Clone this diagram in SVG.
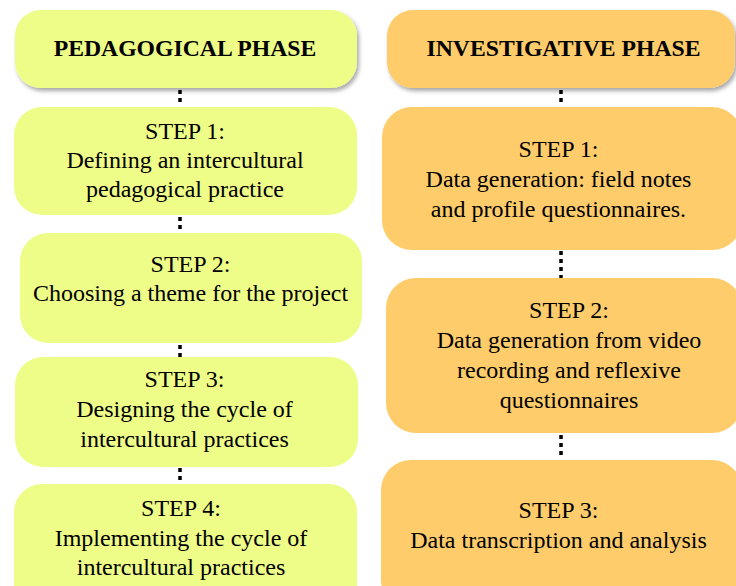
<svg xmlns="http://www.w3.org/2000/svg" width="736" height="586" viewBox="0 0 736 586">
  <defs>
    <filter id="shadow" x="-10%" y="-20%" width="125%" height="150%">
      <feDropShadow dx="2" dy="3" stdDeviation="2" flood-color="#000" flood-opacity="0.35"/>
    </filter>
  </defs>
  <style>
    .ped { fill: #EEFC88; }
    .inv { fill: #FECC6A; }
    .hdr { font-family: "Liberation Serif", "Times New Roman", serif; font-size: 23.7px; font-weight: bold; fill: #000; text-anchor: middle; }
    .txt { font-family: "Liberation Serif", "Times New Roman", serif; font-size: 24px; fill: #000; text-anchor: middle; }
    .link { stroke: #000; stroke-width: 3.5; stroke-dasharray: 4 4; fill: none; }
  </style>
  <rect width="736" height="586" fill="#fff"/>

  <!-- dotted links between stages -->
  <g id="connectors">
    <line class="link" x1="180" y1="90" x2="180" y2="106"/>
    <line class="link" x1="180" y1="217" x2="180" y2="233"/>
    <line class="link" x1="180" y1="345" x2="180" y2="357"/>
    <line class="link" x1="180" y1="468" x2="180" y2="484"/>
    <line class="link" x1="561" y1="90" x2="561" y2="106"/>
    <line class="link" x1="561" y1="251" x2="561" y2="278"/>
    <line class="link" x1="561" y1="435" x2="561" y2="459"/>
  </g>

  <!-- pedagogical column -->
  <g id="ped-header">
    <rect class="ped" x="15" y="10" width="342" height="78" rx="26" filter="url(#shadow)"/>
    <text class="hdr" x="185" y="56">PEDAGOGICAL PHASE</text>
  </g>
  <g id="ped-step1">
    <rect class="ped" x="14" y="107" width="343" height="108" rx="28"/>
    <text class="txt" x="185" y="139">STEP 1:</text>
    <text class="txt" x="185" y="168">Defining an intercultural</text>
    <text class="txt" x="185" y="197">pedagogical practice</text>
  </g>
  <g id="ped-step2">
    <rect class="ped" x="20" y="233" width="342" height="110" rx="28"/>
    <text class="txt" x="190.5" y="271.5">STEP 2:</text>
    <text class="txt" x="190.5" y="300.5">Choosing a theme for the project</text>
  </g>
  <g id="ped-step3">
    <rect class="ped" x="15" y="357" width="343" height="110" rx="28"/>
    <text class="txt" x="184.5" y="387.3">STEP 3:</text>
    <text class="txt" x="184.5" y="417.3">Designing the cycle of</text>
    <text class="txt" x="184.5" y="447.3">intercultural practices</text>
  </g>
  <g id="ped-step4">
    <rect class="ped" x="14" y="484" width="343" height="130" rx="28"/>
    <text class="txt" x="181" y="516">STEP 4:</text>
    <text class="txt" x="181" y="546">Implementing the cycle of</text>
    <text class="txt" x="181" y="575">intercultural practices</text>
  </g>

  <!-- investigative column -->
  <g id="inv-header">
    <rect class="inv" x="387" y="10" width="348" height="78" rx="26" filter="url(#shadow)"/>
    <text class="hdr" x="563.5" y="56">INVESTIGATIVE PHASE</text>
  </g>
  <g id="inv-step1">
    <rect class="inv" x="382" y="107" width="360" height="143" rx="30"/>
    <text class="txt" x="558.5" y="156.7">STEP 1:</text>
    <text class="txt" x="558.5" y="186.7">Data generation: field notes</text>
    <text class="txt" x="558.5" y="216.7">and profile questionnaires.</text>
  </g>
  <g id="inv-step2">
    <rect class="inv" x="386" y="278" width="356" height="155" rx="30"/>
    <text class="txt" x="569" y="318.3">STEP 2:</text>
    <text class="txt" x="569" y="348.3">Data generation from video</text>
    <text class="txt" x="569" y="378.3">recording and reflexive</text>
    <text class="txt" x="569" y="407.7">questionnaires</text>
  </g>
  <g id="inv-step3">
    <rect class="inv" x="381" y="460" width="361" height="150" rx="30"/>
    <text class="txt" x="558.5" y="518.3">STEP 3:</text>
    <text class="txt" x="558.5" y="548.3">Data transcription and analysis</text>
  </g>
</svg>
